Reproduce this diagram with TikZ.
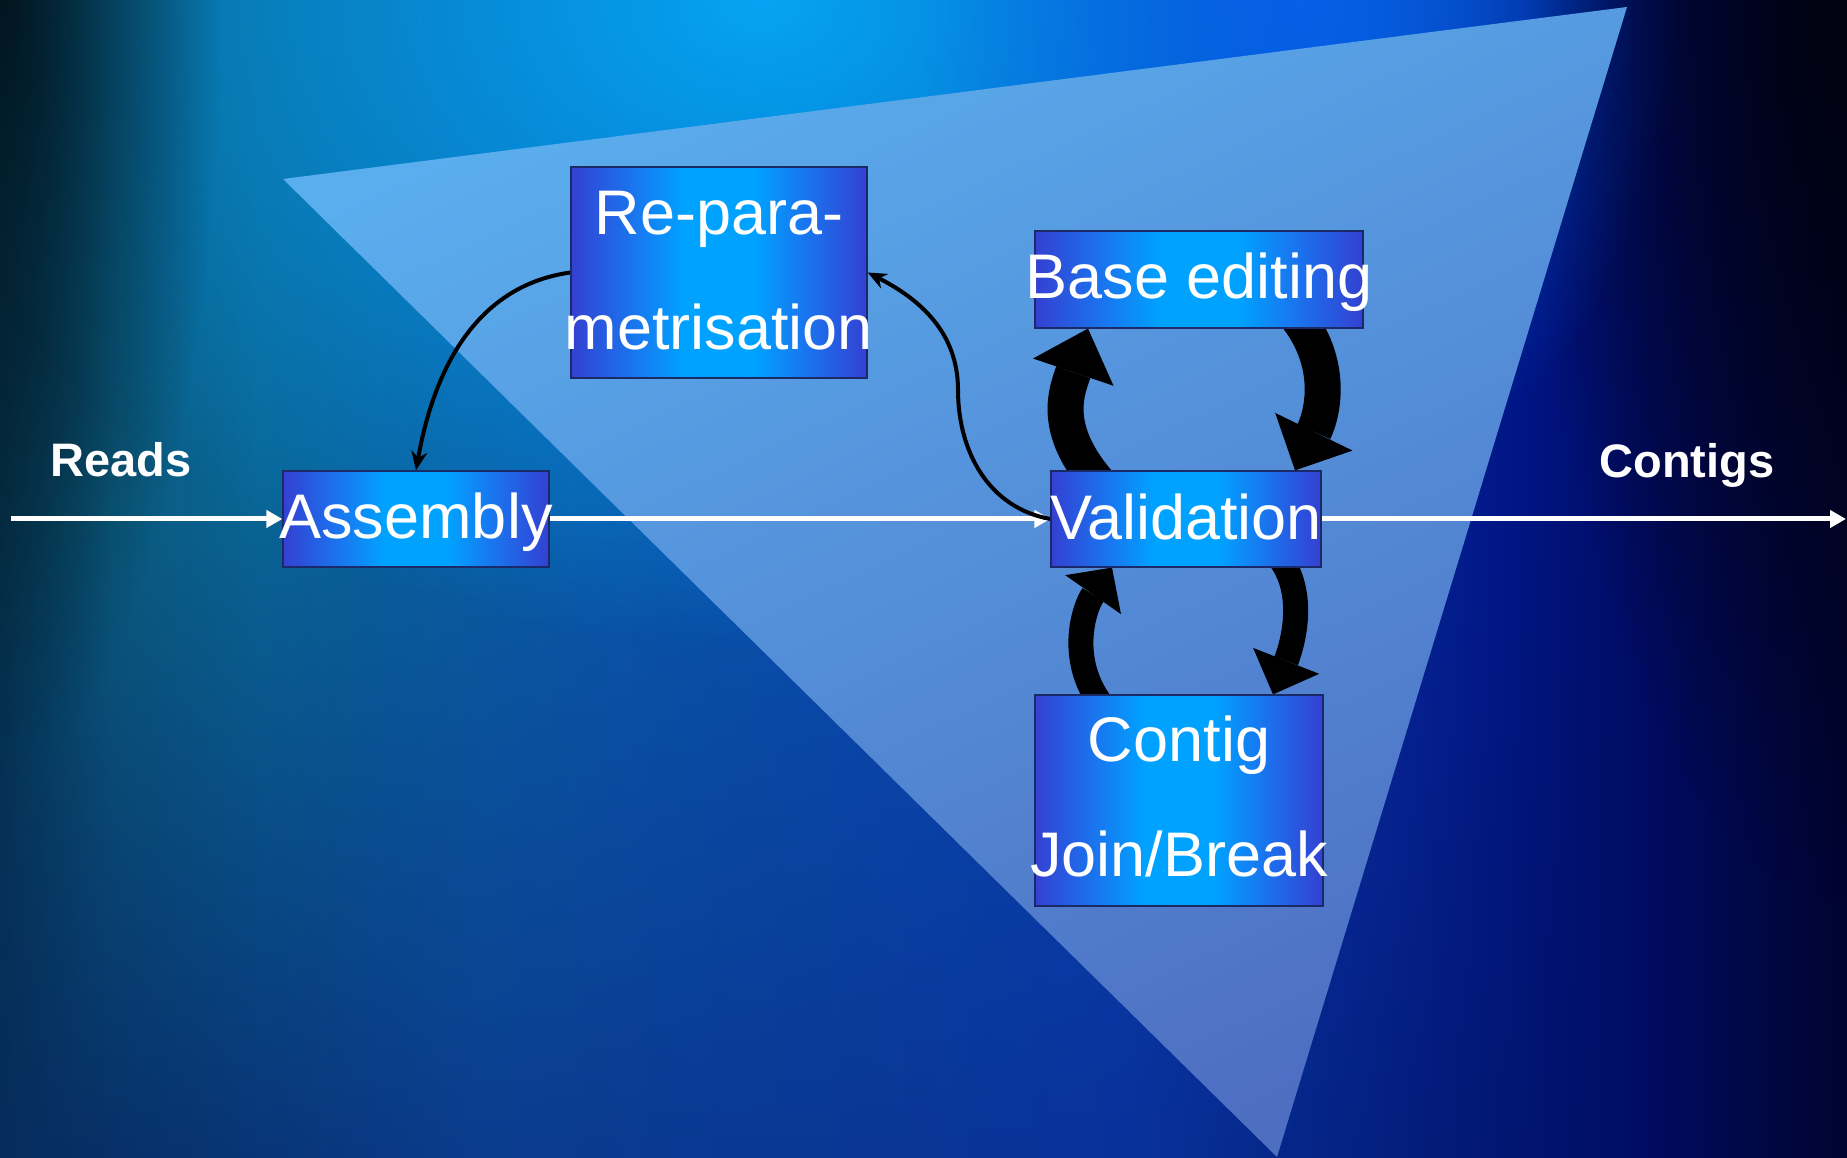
\documentclass[tikz,border=0pt]{standalone}
\usepackage{fontspec}
\setmainfont{Liberation Sans}
\usetikzlibrary{arrows.meta,fadings,calc}
\pgfdeclarelayer{bg}
\pgfdeclarelayer{conn}
\pgfsetlayers{bg,conn,main}

\definecolor{bedge}{HTML}{3440D2}
\definecolor{bmid2}{HTML}{1878F0}
\definecolor{bmid}{HTML}{00A2FF}
\definecolor{boxline}{HTML}{1A2A66}
\pgfdeclarehorizontalshading{boxshade}{100bp}{color(0bp)=(bedge); color(25bp)=(bedge); color(36bp)=(bmid2); color(44bp)=(bmid); color(56bp)=(bmid); color(64bp)=(bmid2); color(75bp)=(bedge); color(100bp)=(bedge)}

\definecolor{g0}{HTML}{05344E}
\definecolor{g1}{HTML}{0B5A7E}
\definecolor{g2}{HTML}{0A6494}
\definecolor{g3}{HTML}{0A58A8}
\definecolor{g4}{HTML}{0845B5}
\definecolor{g5}{HTML}{0A28A0}
\definecolor{g6}{HTML}{001585}
\definecolor{g7}{HTML}{000A5C}
\definecolor{g8}{HTML}{000430}
\pgfdeclarehorizontalshading{bgh}{100bp}{color(0bp)=(g0); color(25bp)=(g0); color(28bp)=(g1); color(32bp)=(g2); color(41bp)=(g3); color(54bp)=(g4); color(62bp)=(g5); color(66bp)=(g6); color(70bp)=(g7); color(75bp)=(g8); color(100bp)=(g8)}

\definecolor{h0}{HTML}{062C5C}
\definecolor{h1}{HTML}{0A3C8E}
\definecolor{h2}{HTML}{08329A}
\definecolor{h3}{HTML}{000E66}
\pgfdeclarehorizontalshading{bgbot}{100bp}{color(0bp)=(h0); color(25bp)=(h0); color(40bp)=(h1); color(60bp)=(h2); color(75bp)=(h3); color(100bp)=(h3)}

\definecolor{glowc}{HTML}{05A4F2}
\definecolor{glowb}{HTML}{0560E8}
\definecolor{darkl}{HTML}{021620}
\definecolor{darkr}{HTML}{00020F}
\definecolor{tritop}{HTML}{5AAEEE}
\definecolor{tribot}{HTML}{4E6EC2}

\tikzfading[name=glowfade, inner color=transparent!0, outer color=transparent!100]
\tikzfading[name=fadetop, top color=transparent!100, bottom color=transparent!0]

\begin{document}
\begin{tikzpicture}[x=1pt,y=1pt,
  pbox/.style={draw=boxline, line width=1.2pt, shading=boxshade, inner sep=0pt, rectangle},
  btext/.style={text=white, font=\fontsize{63}{75}\selectfont, inner sep=0pt, anchor=base},
  ltext/.style={text=white, font=\bfseries\fontsize{47}{56}\selectfont, inner sep=0pt, anchor=base},
  wline/.style={draw=white, line width=5pt, -{Triangle[length=16pt,width=17pt]}},
  thinarr/.style={draw=black, line width=4pt, -{Stealth[length=19pt,width=16pt]}},
  bigarr/.style={draw=black, line width=#1, line cap=butt},
]
\useasboundingbox (0,0) rectangle (1847,1158);

\begin{pgfonlayer}{bg}
  \shade[shading=bgh] (0,0) rectangle (1847,1158);
  \shade[shading=bgbot, path fading=fadetop] (0,0) rectangle (1620,640);
  \fill[color=glowc, path fading=glowfade] (760,1158) ellipse [x radius=850, y radius=650];
  \fill[color=glowb, path fading=glowfade] (1300,1158) ellipse [x radius=380, y radius=500];
  \fill[color=darkl, path fading=glowfade] (0,1158) ellipse [x radius=220, y radius=760];
  \fill[color=darkr, path fading=glowfade] (1847,1158) ellipse [x radius=320, y radius=900];
  \shade[top color=tritop, bottom color=tribot, shading angle=25] (283,979) -- (1627,1151) -- (1277,1) -- cycle;
\end{pgfonlayer}

% boxes
\node[pbox, minimum width=266pt, minimum height=96pt] (asm) at (416,639) {};
\node[pbox, minimum width=296pt, minimum height=211pt] (rep) at (719,885.5) {};
\node[pbox, minimum width=328pt, minimum height=97pt] (base) at (1199,878.5) {};
\node[pbox, minimum width=270pt, minimum height=96pt] (val) at (1186,639) {};
\node[pbox, minimum width=288pt, minimum height=211pt] (con) at (1179,357.5) {};

% texts
\node[btext] (asmT) at ([yshift=-20pt]asm.center) {Assembly};
\node[btext] (rep1) at ([yshift=37.5pt]rep.center) {Re-para-};
\node[btext] (rep2) at ([yshift=-77.5pt]rep.center) {metrisation};
\node[btext] (baseT) at ([yshift=-19.5pt]base.center) {Base editing};
\node[btext] (valT) at ([yshift=-21pt]val.center) {Validation};
\node[btext] (con1) at ([yshift=38.5pt]con.center) {Contig};
\node[btext] (con2) at ([yshift=-76.5pt]con.center) {Join/Break};
\node[ltext] (reads) at (121,681) {Reads};
\node[ltext] (contigs) at (1687,680) {Contigs};

\coordinate (src) at (11,639);
\coordinate (snk) at (1846,639);
\coordinate (bend) at (958,768);

\begin{pgfonlayer}{conn}
  \draw[wline] (src) -- (asm.west);
  \draw[wline] (asm.east) -- (val.west);
  \draw[wline] (val.east) -- (snk);
  \draw[thinarr] (rep.west) to[out=188,in=80] (asm.north);
  \draw[thinarr] (val.west) to[out=170,in=-90] (bend) to[out=90,in=-27] (rep.east);
  % big cycle arrows
  \draw[bigarr=36pt, -{Triangle[width=85pt,length=46pt,line width=0pt]}]
    ([xshift=-79pt,yshift=-22pt]val.north) .. controls +(-57,60) and +(-22,-65) .. ([xshift=-111pt]base.south);
  \draw[bigarr=36pt, -{Triangle[width=86pt,length=43pt,line width=0pt]}]
    ([xshift=91pt,yshift=20pt]base.south) .. controls +(45,-50) and +(28.5,58.5) .. ([xshift=109pt]val.north);
  \draw[bigarr=25pt, -{Triangle[width=68pt,length=33pt,line width=0pt]}]
    ([xshift=-69pt,yshift=-20pt]con.north) .. controls +(-45,47) and +(-29,-41.5) .. ([xshift=-74pt]val.south);
  \draw[bigarr=25pt, -{Triangle[width=71pt,length=36pt,line width=0pt]}]
    ([xshift=84pt,yshift=20pt]val.south) .. controls +(40,-36) and +(20,51) .. ([xshift=94pt]con.north);
\end{pgfonlayer}
\end{tikzpicture}
\end{document}
